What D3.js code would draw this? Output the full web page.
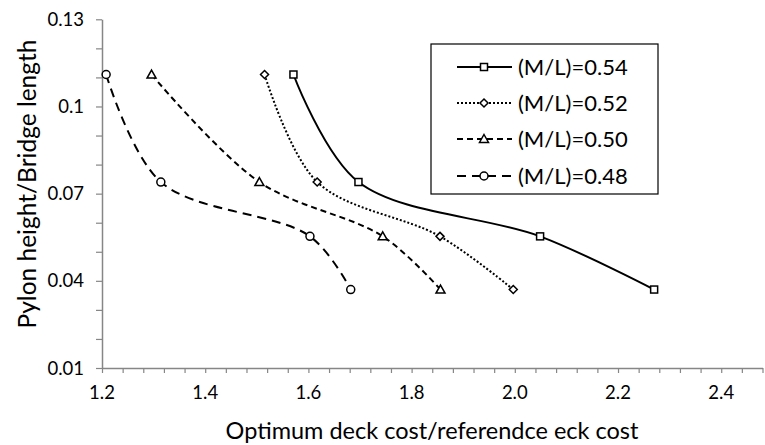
<!DOCTYPE html>
<html>
<head>
<meta charset="utf-8">
<script src="https://cdn.jsdelivr.net/npm/d3@7"></script>
<style>
  html, body { margin: 0; padding: 0; background: #fff; }
  svg { display: block; font-family: Lato, "Open Sans", sans-serif; }
</style>
</head>
<body>
<svg id="chart" width="765" height="445"></svg>
<script>
// ---- data ----
const seriesNames = ["(M/L)=0.54", "(M/L)=0.52", "(M/L)=0.50", "(M/L)=0.48"];
const yValues = [0.111, 0.074, 0.0553, 0.037];
const x054 = [1.571, 1.697, 2.049, 2.270];
const x052 = [1.515, 1.617, 1.855, 1.997];
const x050 = [1.296, 1.505, 1.744, 1.856];
const x048 = [1.208, 1.314, 1.603, 1.682];
const xTickLabels = ["1.2", "1.4", "1.6", "1.8", "2.0", "2.2", "2.4"];
const yTickLabels = ["0.01", "0.04", "0.07", "0.1", "0.13"];
const xTitle = "Optimum deck cost/referendce eck cost";
const yTitle = "Pylon height/Bridge length";

// ---- layout ----
const svg = d3.select("#chart");
const x = d3.scaleLinear().domain([1.2, 2.48]).range([102, 762.5]);
const y = d3.scaleLinear().domain([0.01, 0.13]).range([368, 19.3]);
const axisColor = "#868686";

// x axis
const xTicks = d3.range(0, 33).map(i => +(1.2 + i * 0.04).toFixed(2));
const xAx = svg.append("g").attr("transform", `translate(0,${y(0.01)})`)
  .call(d3.axisBottom(x).tickValues(xTicks).tickSize(5).tickSizeOuter(0)
    .tickFormat(() => ""));
xAx.select(".domain").attr("stroke", axisColor).attr("stroke-width", 1.5);
xAx.selectAll(".tick line").attr("stroke", axisColor).attr("stroke-width", 1.2);
const xLab = svg.append("g").attr("transform", `translate(0,${y(0.01)})`);
xTickLabels.forEach(t => {
  xLab.append("text").attr("x", x(+t)).attr("y", 31)
    .attr("text-anchor", "middle").attr("font-size", 18.5).attr("fill", "#000").text(t);
});

// y axis
const yTicks = d3.range(0, 13).map(i => +(0.01 + i * 0.01).toFixed(2));
const yAx = svg.append("g").attr("transform", `translate(${x(1.2)},0)`)
  .call(d3.axisLeft(y).tickValues(yTicks).tickSize(6).tickSizeOuter(0)
    .tickFormat(() => ""));
yAx.select(".domain").attr("stroke", axisColor).attr("stroke-width", 1.5);
yAx.selectAll(".tick line").attr("stroke", axisColor).attr("stroke-width", 1.2);
const yLab = svg.append("g");
yTickLabels.forEach(t => {
  yLab.append("text").attr("x", 84).attr("y", y(+t)).attr("dy", "0.36em")
    .attr("text-anchor", "end").attr("font-size", 18.5).attr("fill", "#000").text(t);
});

// titles
svg.append("text").attr("x", 432).attr("y", 439).attr("text-anchor", "middle")
  .attr("font-size", 23.5).attr("fill", "#000").text(xTitle);
svg.append("text").attr("transform", "translate(27,184) rotate(-90)")
  .attr("dy", "0.35em").attr("text-anchor", "middle")
  .attr("font-size", 24.5).attr("fill", "#000").text(yTitle);

// series
const styles = [
  { dash: null, marker: "square" },
  { dash: "2,2", marker: "diamond" },
  { dash: "6,4", marker: "triangle" },
  { dash: "9,6", marker: "circle" }
];
const xs = [x054, x052, x050, x048];
const series = seriesNames.map((n, i) => ({
  name: n, style: styles[i],
  pts: xs[i].map((v, j) => ({ x: v, y: yValues[j] }))
}));

const line = d3.line().x(d => x(d.x)).y(d => y(d.y)).curve(d3.curveCatmullRom.alpha(0.5));

function drawMarker(g, type, cx, cy) {
  if (type === "square") {
    g.append("rect").attr("x", cx - 3.5).attr("y", cy - 3.5).attr("width", 7).attr("height", 7)
      .attr("fill", "#fff").attr("stroke", "#000").attr("stroke-width", 1.5);
  } else if (type === "diamond") {
    g.append("path").attr("d", `M${cx},${cy - 4}L${cx + 4},${cy}L${cx},${cy + 4}L${cx - 4},${cy}Z`)
      .attr("fill", "#fff").attr("stroke", "#000").attr("stroke-width", 1.5);
  } else if (type === "triangle") {
    g.append("path").attr("d", `M${cx},${cy - 4.5}L${cx + 4.5},${cy + 3.5}L${cx - 4.5},${cy + 3.5}Z`)
      .attr("fill", "#fff").attr("stroke", "#000").attr("stroke-width", 1.5);
  } else {
    g.append("circle").attr("cx", cx).attr("cy", cy).attr("r", 4)
      .attr("fill", "#fff").attr("stroke", "#000").attr("stroke-width", 1.5);
  }
}

const plot = svg.append("g");
series.forEach(s => {
  plot.append("path").attr("d", line(s.pts)).attr("fill", "none")
    .attr("stroke", "#000").attr("stroke-width", 2)
    .attr("stroke-dasharray", s.style.dash);
});
series.forEach(s => {
  const g = plot.append("g");
  s.pts.forEach(p => drawMarker(g, s.style.marker, x(p.x), y(p.y)));
});

// legend
const lg = svg.append("g");
lg.append("rect").attr("x", 431).attr("y", 44).attr("width", 227).attr("height", 150)
  .attr("fill", "#fff").attr("stroke", "#000").attr("stroke-width", 1.2);
const rowY = [67, 103, 139, 176];
series.forEach((s, i) => {
  lg.append("line").attr("x1", 457).attr("x2", 512).attr("y1", rowY[i]).attr("y2", rowY[i])
    .attr("stroke", "#000").attr("stroke-width", 2).attr("stroke-dasharray", s.style.dash);
  drawMarker(lg, s.style.marker, 484, rowY[i]);
  lg.append("text").attr("x", 518).attr("y", rowY[i]).attr("dy", "0.36em")
    .attr("font-size", 22).attr("fill", "#000").text(s.name);
});
</script>
</body>
</html>
